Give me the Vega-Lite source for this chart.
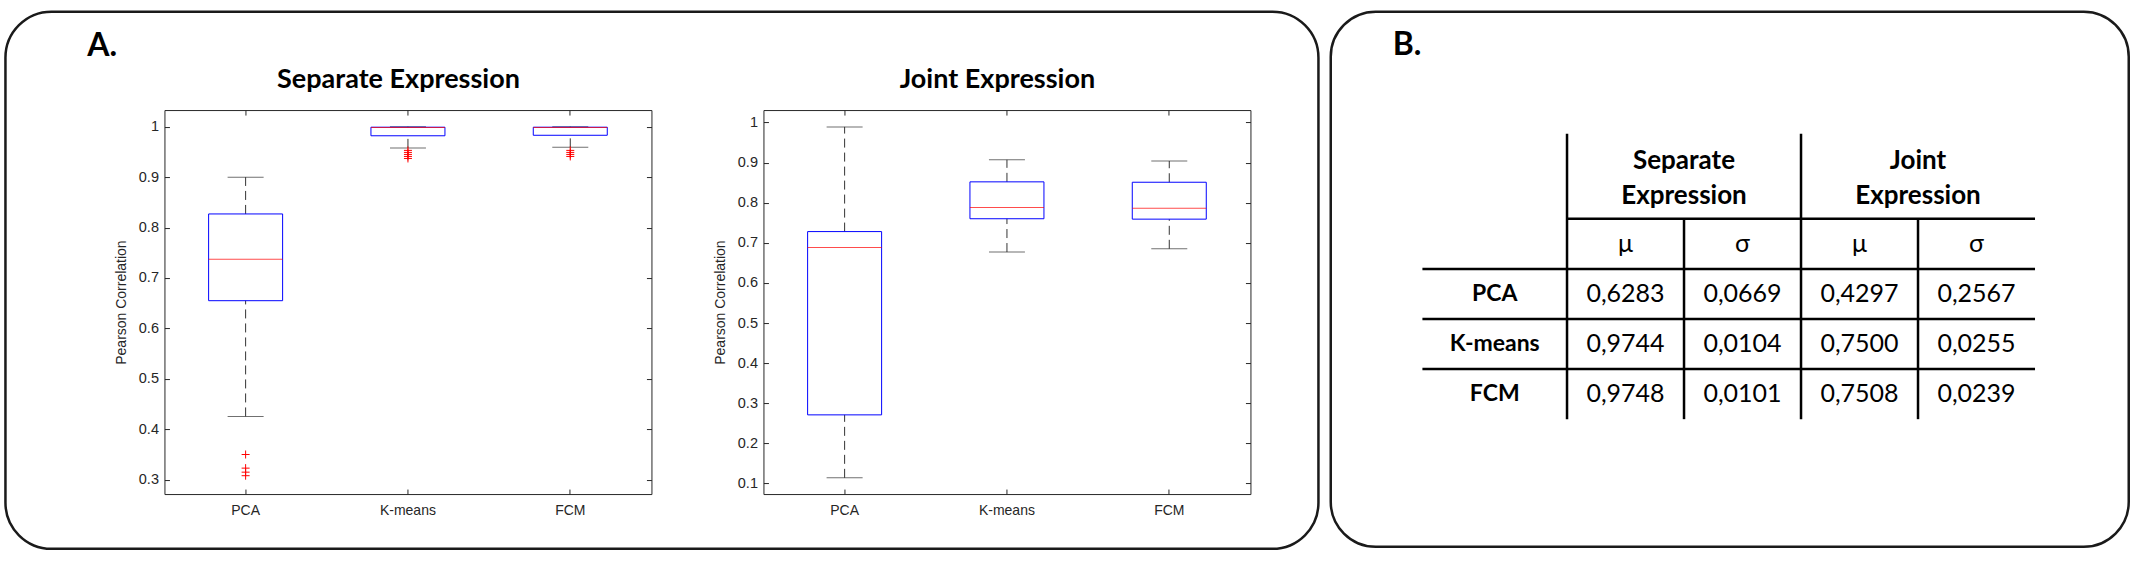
{
  "$schema": "https://vega.github.io/schema/vega-lite/v6.json",
  "background": "white",
  "padding": {"left": 3.45, "top": 9.75, "right": 5, "bottom": 5},
  "config": {"view": {"stroke": null}, "axis": {"grid": false}},
  "datasets": {
    "sepStats": [
      {"m": "PCA", "lo": 0.4255, "q1": 0.655, "med": 0.737, "q3": 0.827, "hi": 0.9},
      {"m": "K-means", "lo": 0.958, "q1": 0.982, "med": 0.9985, "q3": 0.999, "hi": 1.0},
      {"m": "FCM", "lo": 0.959, "q1": 0.983, "med": 0.9985, "q3": 0.999, "hi": 1.0}
    ],
    "sepOut": [
      {"m": "PCA", "v": 0.35}, {"m": "PCA", "v": 0.323}, {"m": "PCA", "v": 0.315}, {"m": "PCA", "v": 0.308},
      {"m": "K-means", "v": 0.953}, {"m": "K-means", "v": 0.949}, {"m": "K-means", "v": 0.945}, {"m": "K-means", "v": 0.941}, {"m": "K-means", "v": 0.937},
      {"m": "FCM", "v": 0.953}, {"m": "FCM", "v": 0.949}, {"m": "FCM", "v": 0.945}, {"m": "FCM", "v": 0.941}
    ],
    "jointStats": [
      {"m": "PCA", "lo": 0.114, "q1": 0.271, "med": 0.688, "q3": 0.728, "hi": 0.989},
      {"m": "K-means", "lo": 0.677, "q1": 0.76, "med": 0.788, "q3": 0.852, "hi": 0.907},
      {"m": "FCM", "lo": 0.685, "q1": 0.759, "med": 0.786, "q3": 0.851, "hi": 0.904}
    ],
    "cells": [
      {"r": "musig", "c": "sm", "v": "μ"}, {"r": "musig", "c": "ss", "v": "σ"}, {"r": "musig", "c": "jm", "v": "μ"}, {"r": "musig", "c": "js", "v": "σ"},
      {"r": "PCA", "c": "sm", "v": "0,6283"}, {"r": "PCA", "c": "ss", "v": "0,0669"}, {"r": "PCA", "c": "jm", "v": "0,4297"}, {"r": "PCA", "c": "js", "v": "0,2567"},
      {"r": "K-means", "c": "sm", "v": "0,9744"}, {"r": "K-means", "c": "ss", "v": "0,0104"}, {"r": "K-means", "c": "jm", "v": "0,7500"}, {"r": "K-means", "c": "js", "v": "0,0255"},
      {"r": "FCM", "c": "sm", "v": "0,9748"}, {"r": "FCM", "c": "ss", "v": "0,0101"}, {"r": "FCM", "c": "jm", "v": "0,7508"}, {"r": "FCM", "c": "js", "v": "0,0239"}
    ],
    "rowLabels": [{"r": "PCA", "c": "lab"}, {"r": "K-means", "c": "lab"}, {"r": "FCM", "c": "lab"}],
    "panelLabel": [{"r": "musig", "c": "lab", "t": "B."}],
    "headers": [
      {"r": "musig", "c": "sm", "l1": "Separate", "l2": "Expression"},
      {"r": "musig", "c": "jm", "l1": "Joint", "l2": "Expression"}
    ],
    "hFull": [
      {"r": "PCA", "c0": "lab", "c1": "js"}, {"r": "K-means", "c0": "lab", "c1": "js"}, {"r": "FCM", "c0": "lab", "c1": "js"}
    ],
    "hTop": [{"r": "musig", "c0": "sm", "c1": "js"}],
    "vLong": [{"c": "sm", "r0": "musig", "r1": "FCM"}, {"c": "jm", "r0": "musig", "r1": "FCM"}],
    "vShort": [{"c": "ss", "r0": "musig", "r1": "FCM"}, {"c": "js", "r0": "musig", "r1": "FCM"}]
  },
  "hconcat": [
    {
      "vconcat": [
        {
          "width": 1313, "height": 537,
          "view": {"stroke": "#1a1a1a", "strokeWidth": 2.5, "cornerRadius": 46},
          "data": {"values": []},
          "mark": "text",
          "encoding": {}
        },
        {
          "hconcat": [
            {"width": 46.7, "height": 10, "view": {"stroke": null}, "data": {"values": []}, "mark": "text", "encoding": {}},
            {
              "width": 487, "height": 384,
              "view": {"stroke": "#262626", "strokeWidth": 1},
              "data": {"name": "sepStats"},
              "layer": [
                {
                  "mark": {"type": "rule", "color": "#333333", "strokeDash": [9, 5], "strokeWidth": 1},
                  "encoding": {
                    "x": {"field": "m", "type": "nominal", "sort": ["PCA", "K-means", "FCM"], "scale": {"domain": ["PCA", "K-means", "FCM"], "paddingInner": 0, "paddingOuter": 0},
                      "axis": {"orient": "bottom", "title": null, "labelAngle": 0, "labelFont": "Liberation Sans", "labelFontSize": 14, "labelColor": "#262626", "labelPadding": 14, "tickSize": -5, "tickColor": "#262626", "domain": false, "grid": false}},
                    "y": {"field": "lo", "type": "quantitative", "scale": {"domain": [0.2716, 1.033], "nice": false, "zero": false},
                      "axis": {"orient": "left", "values": [0.3, 0.4, 0.5, 0.6, 0.7, 0.8, 0.9, 1], "format": "~g", "title": "Pearson Correlation", "titleFont": "Liberation Sans", "titleFontSize": 14, "titleFontWeight": "normal", "titleColor": "#262626", "titlePadding": 10, "labelFont": "Liberation Sans", "labelFontSize": 14.5, "labelColor": "#262626", "labelPadding": 11, "tickSize": -5, "tickColor": "#262626", "domain": false, "grid": false}},
                    "y2": {"field": "q1"}
                  }
                },
                {
                  "mark": {"type": "rule", "color": "#333333", "strokeDash": [9, 5], "strokeWidth": 1},
                  "encoding": {
                    "x": {"field": "m", "type": "nominal", "sort": ["PCA", "K-means", "FCM"],
                      "axis": {"orient": "top", "title": "Separate Expression", "titleFont": "Lato", "titleFontSize": 27, "titleFontWeight": "bold", "titleColor": "#000", "titleX": 233.5, "titleY": -23, "titleAlign": "center", "titleBaseline": "alphabetic", "labels": false, "tickSize": -5, "tickColor": "#262626", "domain": false, "grid": false}},
                    "y": {"field": "q3", "type": "quantitative",
                      "axis": {"orient": "right", "title": "A.", "titleFont": "Lato", "titleFontSize": 32, "titleFontWeight": "bold", "titleColor": "#000", "titleAngle": 0, "titleX": -564.7, "titleY": -54.3, "titleAlign": "left", "titleBaseline": "alphabetic", "labels": false, "values": [0.3, 0.4, 0.5, 0.6, 0.7, 0.8, 0.9, 1], "tickSize": -5, "tickColor": "#262626", "domain": false, "grid": false}},
                    "y2": {"field": "hi"}
                  }
                },
                {
                  "mark": {"type": "tick", "color": "#333333", "size": 36, "thickness": 1},
                  "encoding": {"x": {"field": "m", "type": "nominal", "sort": ["PCA", "K-means", "FCM"], "axis": null}, "y": {"field": "lo", "type": "quantitative", "axis": null}}
                },
                {
                  "mark": {"type": "tick", "color": "#333333", "size": 36, "thickness": 1},
                  "encoding": {"x": {"field": "m", "type": "nominal", "sort": ["PCA", "K-means", "FCM"], "axis": null}, "y": {"field": "hi", "type": "quantitative", "axis": null}}
                },
                {
                  "mark": {"type": "bar", "fillOpacity": 0, "stroke": "#0000ff", "strokeWidth": 1, "width": 74},
                  "encoding": {"x": {"field": "m", "type": "nominal", "sort": ["PCA", "K-means", "FCM"], "axis": null}, "y": {"field": "q1", "type": "quantitative", "axis": null}, "y2": {"field": "q3"}}
                },
                {
                  "mark": {"type": "tick", "color": "#ff0000", "size": 74, "thickness": 1},
                  "encoding": {"x": {"field": "m", "type": "nominal", "sort": ["PCA", "K-means", "FCM"], "axis": null}, "y": {"field": "med", "type": "quantitative", "axis": null}}
                },
                {
                  "data": {"name": "sepOut"},
                  "mark": {"type": "point", "shape": "M-1,0H1M0,-1V1", "size": 64, "color": "#ff0000", "filled": false, "strokeWidth": 1, "opacity": 1},
                  "encoding": {"x": {"field": "m", "type": "nominal", "sort": ["PCA", "K-means", "FCM"], "axis": null}, "y": {"field": "v", "type": "quantitative", "axis": null}}
                }
              ],
              "resolve": {"axis": {"x": "independent", "y": "independent"}}
            },
            {
              "width": 487, "height": 384,
              "view": {"stroke": "#262626", "strokeWidth": 1},
              "data": {"name": "jointStats"},
              "layer": [
                {
                  "mark": {"type": "rule", "color": "#333333", "strokeDash": [9, 5], "strokeWidth": 1},
                  "encoding": {
                    "x": {"field": "m", "type": "nominal", "sort": ["PCA", "K-means", "FCM"], "scale": {"domain": ["PCA", "K-means", "FCM"], "paddingInner": 0, "paddingOuter": 0},
                      "axis": {"orient": "bottom", "title": null, "labelAngle": 0, "labelFont": "Liberation Sans", "labelFontSize": 14, "labelColor": "#262626", "labelPadding": 14, "tickSize": -5, "tickColor": "#262626", "domain": false, "grid": false}},
                    "y": {"field": "lo", "type": "quantitative", "scale": {"domain": [0.0736, 1.031], "nice": false, "zero": false},
                      "axis": {"orient": "left", "values": [0.1, 0.2, 0.3, 0.4, 0.5, 0.6, 0.7, 0.8, 0.9, 1], "format": "~g", "title": "Pearson Correlation", "titleFont": "Liberation Sans", "titleFontSize": 14, "titleFontWeight": "normal", "titleColor": "#262626", "titlePadding": 10, "labelFont": "Liberation Sans", "labelFontSize": 14.5, "labelColor": "#262626", "labelPadding": 11, "tickSize": -5, "tickColor": "#262626", "domain": false, "grid": false}},
                    "y2": {"field": "q1"}
                  }
                },
                {
                  "mark": {"type": "rule", "color": "#333333", "strokeDash": [9, 5], "strokeWidth": 1},
                  "encoding": {
                    "x": {"field": "m", "type": "nominal", "sort": ["PCA", "K-means", "FCM"],
                      "axis": {"orient": "top", "title": "Joint Expression", "titleFont": "Lato", "titleFontSize": 27, "titleFontWeight": "bold", "titleColor": "#000", "titleX": 233.5, "titleY": -23, "titleAlign": "center", "titleBaseline": "alphabetic", "labels": false, "tickSize": -5, "tickColor": "#262626", "domain": false, "grid": false}},
                    "y": {"field": "q3", "type": "quantitative",
                      "axis": {"orient": "right", "title": null, "labels": false, "values": [0.1, 0.2, 0.3, 0.4, 0.5, 0.6, 0.7, 0.8, 0.9, 1], "tickSize": -5, "tickColor": "#262626", "domain": false, "grid": false}},
                    "y2": {"field": "hi"}
                  }
                },
                {
                  "mark": {"type": "tick", "color": "#333333", "size": 36, "thickness": 1},
                  "encoding": {"x": {"field": "m", "type": "nominal", "sort": ["PCA", "K-means", "FCM"], "axis": null}, "y": {"field": "lo", "type": "quantitative", "axis": null}}
                },
                {
                  "mark": {"type": "tick", "color": "#333333", "size": 36, "thickness": 1},
                  "encoding": {"x": {"field": "m", "type": "nominal", "sort": ["PCA", "K-means", "FCM"], "axis": null}, "y": {"field": "hi", "type": "quantitative", "axis": null}}
                },
                {
                  "mark": {"type": "bar", "fillOpacity": 0, "stroke": "#0000ff", "strokeWidth": 1, "width": 74},
                  "encoding": {"x": {"field": "m", "type": "nominal", "sort": ["PCA", "K-means", "FCM"], "axis": null}, "y": {"field": "q1", "type": "quantitative", "axis": null}, "y2": {"field": "q3"}}
                },
                {
                  "mark": {"type": "tick", "color": "#ff0000", "size": 74, "thickness": 1},
                  "encoding": {"x": {"field": "m", "type": "nominal", "sort": ["PCA", "K-means", "FCM"], "axis": null}, "y": {"field": "med", "type": "quantitative", "axis": null}}
                }
              ],
              "resolve": {"axis": {"x": "independent", "y": "independent"}}
            }
          ],
          "spacing": 112,
          "bounds": "flush"
        }
      ],
      "spacing": -438.7,
      "bounds": "flush",
      "align": "none"
    },
    {
      "width": 798, "height": 535,
      "view": {"stroke": "#1a1a1a", "strokeWidth": 2.5, "cornerRadius": 45},
      "layer": [
        {
          "data": {"name": "hFull"},
          "mark": {"type": "rule", "color": "#000", "strokeWidth": 2.5},
          "encoding": {
            "x": {"field": "c0", "type": "nominal", "bandPosition": -0.236, "axis": null, "scale": {"type": "band", "domain": ["lab", "sm", "ss", "jm", "js"], "paddingInner": 0, "paddingOuter": 0.9103, "align": 0.56}},
            "x2": {"field": "c1", "bandPosition": 1},
            "y": {"field": "r", "type": "nominal", "bandPosition": 0, "axis": null, "scale": {"type": "band", "domain": ["e1", "e2", "e3", "e4", "musig", "PCA", "K-means", "FCM", "e5", "e6"], "paddingInner": 0, "paddingOuter": 0.34, "align": 0.196}}
          }
        },
        {
          "data": {"name": "hTop"},
          "mark": {"type": "rule", "color": "#000", "strokeWidth": 2.5},
          "encoding": {
            "x": {"field": "c0", "type": "nominal", "bandPosition": 0, "axis": null},
            "x2": {"field": "c1", "bandPosition": 1},
            "y": {"field": "r", "type": "nominal", "bandPosition": 0, "axis": null}
          }
        },
        {
          "data": {"name": "vLong"},
          "mark": {"type": "rule", "color": "#000", "strokeWidth": 2.5},
          "encoding": {
            "x": {"field": "c", "type": "nominal", "bandPosition": 0, "axis": null},
            "y": {"field": "r0", "type": "nominal", "bandPosition": -1.7, "axis": null},
            "y2": {"field": "r1", "bandPosition": 1}
          }
        },
        {
          "data": {"name": "vShort"},
          "mark": {"type": "rule", "color": "#000", "strokeWidth": 2.5},
          "encoding": {
            "x": {"field": "c", "type": "nominal", "bandPosition": 0, "axis": null},
            "y": {"field": "r0", "type": "nominal", "bandPosition": 0, "axis": null},
            "y2": {"field": "r1", "bandPosition": 1}
          }
        },
        {
          "data": {"name": "cells"},
          "mark": {"type": "text", "font": "Lato", "fontSize": 25, "color": "#000", "baseline": "middle"},
          "encoding": {
            "x": {"field": "c", "type": "nominal", "axis": null},
            "y": {"field": "r", "type": "nominal", "axis": null},
            "text": {"field": "v"}
          }
        },
        {
          "data": {"name": "rowLabels"},
          "mark": {"type": "text", "font": "Lato", "fontSize": 23, "fontWeight": "bold", "color": "#000", "baseline": "middle"},
          "encoding": {
            "x": {"field": "c", "type": "nominal", "bandPosition": 0.382, "axis": null},
            "y": {"field": "r", "type": "nominal", "axis": null},
            "text": {"field": "r"}
          }
        },
        {
          "data": {"name": "panelLabel"},
          "mark": {"type": "text", "font": "Lato", "fontSize": 32, "fontWeight": "bold", "color": "#000", "align": "left", "baseline": "alphabetic"},
          "encoding": {
            "x": {"field": "c", "type": "nominal", "bandPosition": -0.49, "axis": null},
            "y": {"field": "r", "type": "nominal", "bandPosition": -3.27, "axis": null},
            "text": {"field": "t"}
          }
        },
        {
          "data": {"name": "headers"},
          "mark": {"type": "text", "font": "Lato", "fontSize": 26, "fontWeight": "bold", "color": "#000", "baseline": "middle"},
          "encoding": {
            "x": {"field": "c", "type": "nominal", "bandPosition": 1, "axis": null},
            "y": {"field": "r", "type": "nominal", "bandPosition": -1.158, "axis": null},
            "text": {"field": "l1"}
          }
        },
        {
          "data": {"name": "headers"},
          "mark": {"type": "text", "font": "Lato", "fontSize": 26, "fontWeight": "bold", "color": "#000", "baseline": "middle"},
          "encoding": {
            "x": {"field": "c", "type": "nominal", "bandPosition": 1, "axis": null},
            "y": {"field": "r", "type": "nominal", "bandPosition": -0.459, "axis": null},
            "text": {"field": "l2"}
          }
        }
      ]
    }
  ],
  "spacing": 8.3
}
